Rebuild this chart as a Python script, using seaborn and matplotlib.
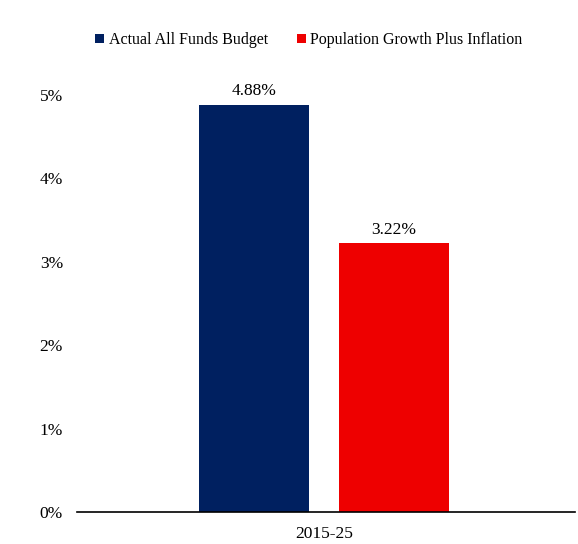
import pandas as pd
import matplotlib.pyplot as plt
import seaborn as sns

# dados
periodo = ["2015-25"]
series = ["Actual All Funds Budget", "Population Growth Plus Inflation"]
valores = [4.88, 3.22]
cores = {"Actual All Funds Budget": "#002060", "Population Growth Plus Inflation": "#EE0000"}

df = pd.DataFrame({
    "periodo": periodo * len(series),
    "serie": series,
    "valor": valores,
})

sns.set_theme(style="white")
plt.rcParams["font.family"] = ["Liberation Serif", "DejaVu Serif"]

fig = plt.figure(figsize=(5.78, 5.44), dpi=100)
ax = fig.add_axes([0.1332, 0.0588, 0.8616, 0.7666])

sns.barplot(data=df, x="periodo", y="valor", hue="serie", palette=cores,
            width=0.562, gap=0.214, saturation=1, linewidth=0, ax=ax)

for cont in ax.containers:
    ax.bar_label(cont, labels=[f"{v:.2f}%" for v in cont.datavalues],
                 padding=4, fontsize=12.5, color="black", clip_on=False)

ax.set_xlim(-0.496, 0.504)
ax.set_ylim(0, 5)
ax.set_yticks([0, 1, 2, 3, 4, 5])
ax.set_yticklabels([f"{i}%" for i in range(6)], fontsize=12.5, color="black")
ax.tick_params(axis="x", labelsize=12.5, colors="black", length=0, pad=10)
ax.tick_params(axis="y", length=0, pad=10)
ax.set_xlabel("")
ax.set_ylabel("")

for lado in ["left", "top", "right"]:
    ax.spines[lado].set_visible(False)
ax.spines["bottom"].set_color("black")
ax.spines["bottom"].set_linewidth(1.2)

ax.legend(loc="upper center", bbox_to_anchor=(0.466, 1.185), ncol=2, frameon=False,
          fontsize=11.5, handlelength=0.55, handleheight=0.55, handletextpad=0.3,
          columnspacing=1.8, labelcolor="black")

fig.savefig("out.png", dpi=100)
